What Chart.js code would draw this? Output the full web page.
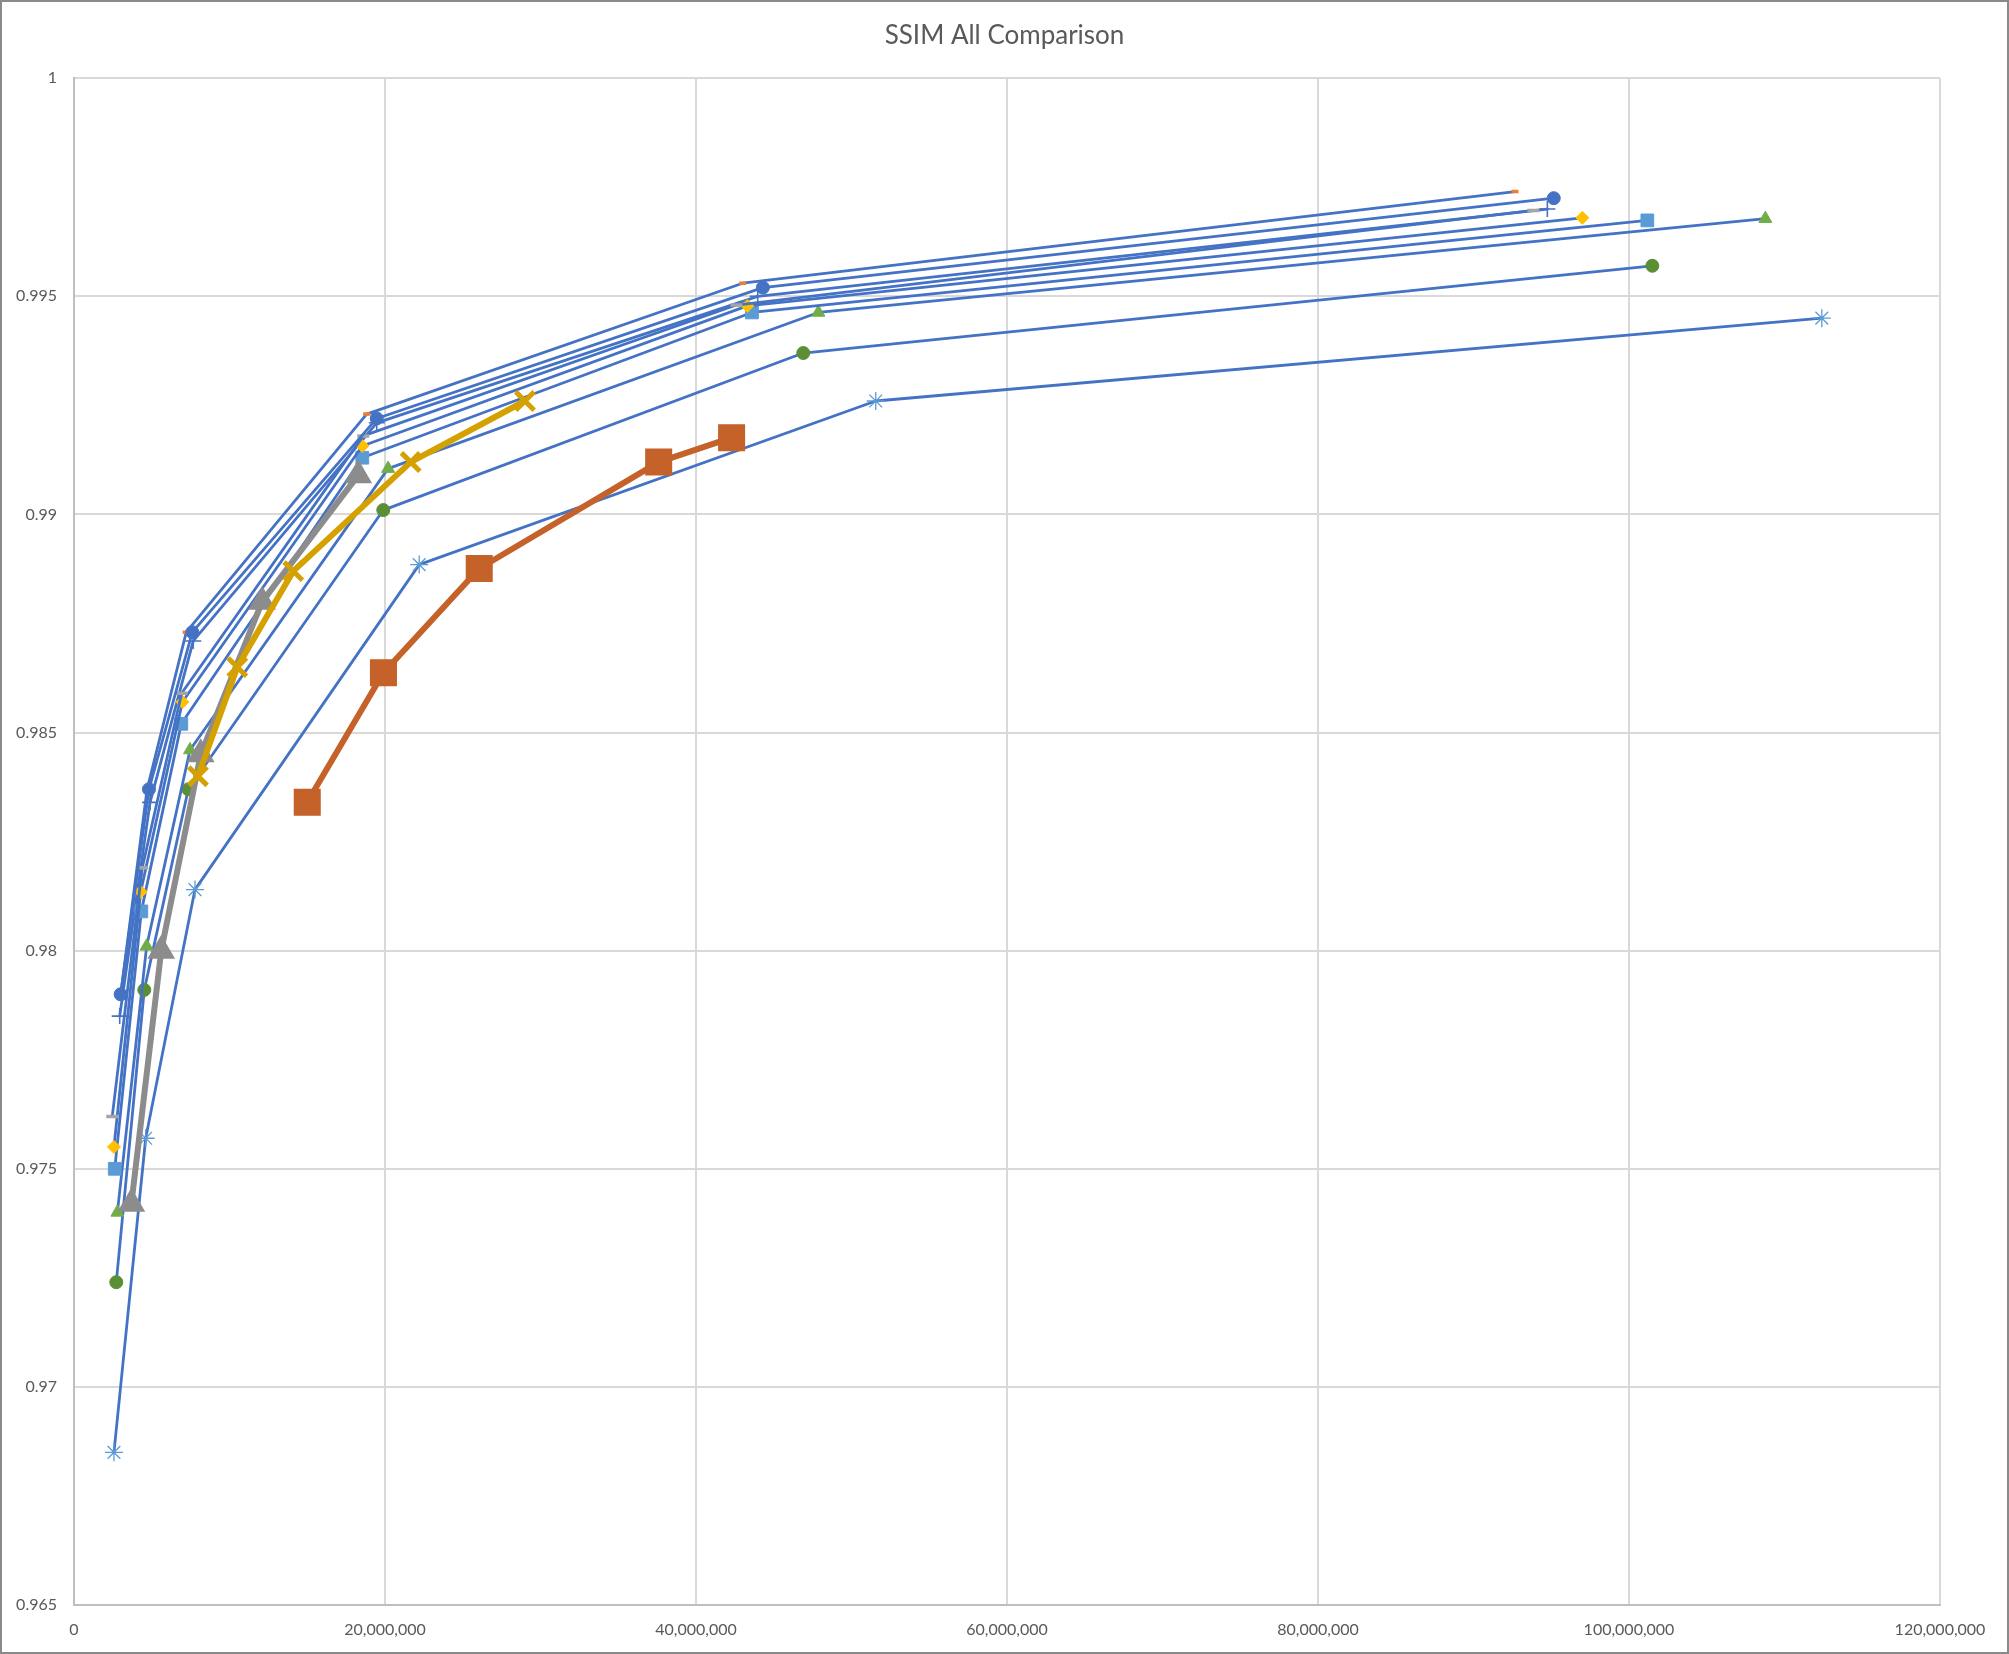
<!DOCTYPE html>
<html>
<head>
<meta charset="utf-8">
<script src="https://cdn.jsdelivr.net/npm/chart.js@4.4.1/dist/chart.umd.min.js"></script>
<style>
  html, body { margin: 0; padding: 0; background: #ffffff; }
  #wrap { position: relative; width: 2009px; height: 1654px; }
  #frame { position: absolute; left: 0; top: 0; width: 2009px; height: 1654px;
           box-sizing: border-box; border: 2px solid #8a8a8a; pointer-events: none; }
</style>
</head>
<body>
<div id="wrap">
  <canvas id="ssimChart" width="2009" height="1654"></canvas>
  <div id="frame"></div>
</div>
<script>
// Bitrate (x) and SSIM (y) per series
const seriesNames = [
  "Series 1", "Series 2", "Series 3", "Series 4", "Series 5", "Series 6",
  "Series 7", "Series 8", "Series 9", "Series 10", "Series 11", "Series 12"
];

const s1X = [3000000, 4820000, 7610000, 19470000, 44300000, 95160000];
const s1Y = [0.9790, 0.9837, 0.9873, 0.9922, 0.9952, 0.99725];

const s2X = [3040000, 4700000, 7220000, 18820000, 43000000, 92670000];
const s2Y = [0.9791, 0.9837, 0.9873, 0.9923, 0.9953, 0.9974];

const s3X = [2460000, 4390000, 6920000, 18600000, 42600000, 93850000];
const s3Y = [0.9762, 0.9819, 0.9859, 0.9918, 0.9948, 0.99697];

const s4X = [2570000, 4290000, 6970000, 18540000, 43300000, 97000000];
const s4Y = [0.9755, 0.98135, 0.9857, 0.99157, 0.99478, 0.9968];

const s5X = [2620000, 4330000, 6900000, 18540000, 43600000, 101180000];
const s5Y = [0.9750, 0.9809, 0.9852, 0.9913, 0.99463, 0.99674];

const s6X = [2790000, 4670000, 7460000, 20200000, 47870000, 108770000];
const s6Y = [0.9740, 0.9801, 0.9846, 0.99105, 0.99463, 0.99678];

const s7X = [2940000, 4890000, 7670000, 19470000, 43970000, 94750000];
const s7Y = [0.9785, 0.9834, 0.9871, 0.9921, 0.9950, 0.9970];

const s8X = [2720000, 4520000, 7350000, 19890000, 46900000, 101500000];
const s8Y = [0.9724, 0.9791, 0.9837, 0.9901, 0.9937, 0.9957];

const s9X = [2570000, 4610000, 7780000, 22200000, 51560000, 112400000];
const s9Y = [0.9685, 0.9757, 0.9814, 0.98885, 0.9926, 0.9945];

const s10X = [15000000, 19900000, 26060000, 37600000, 42290000];
const s10Y = [0.9834, 0.98637, 0.98876, 0.9912, 0.99176];

const s11X = [7970000, 10500000, 14100000, 21650000, 29000000];
const s11Y = [0.9840, 0.9865, 0.9887, 0.9912, 0.9926];

const s12X = [3690000, 5610000, 8150000, 12100000, 18280000];
const s12Y = [0.9742, 0.9800, 0.9845, 0.9880, 0.9909];

const xTicks = [0, 20000000, 40000000, 60000000, 80000000, 100000000, 120000000];
const yTicks = [0.965, 0.97, 0.975, 0.98, 0.985, 0.99, 0.995, 1];

const LINE_BLUE = "#4472C4";

function toPoints(xs, ys) {
  return xs.map((x, i) => ({ x: x, y: ys[i] }));
}

// thin Excel-style series: blue line, coloured marker
function thinSeries(name, xs, ys, style, color, radius, markerWidth, order) {
  return {
    label: name,
    data: toPoints(xs, ys),
    showLine: true,
    borderColor: LINE_BLUE,
    borderWidth: 2.8,
    borderCapStyle: "round",
    borderJoinStyle: "round",
    pointStyle: style,
    pointRadius: radius,
    pointBackgroundColor: color,
    pointBorderColor: color,
    pointBorderWidth: markerWidth,
    order: order
  };
}

// heavy series: line and marker share one colour
function thickSeries(name, xs, ys, style, color, radius, markerWidth, order) {
  return {
    label: name,
    data: toPoints(xs, ys),
    showLine: true,
    borderColor: color,
    borderWidth: 6,
    borderCapStyle: "round",
    borderJoinStyle: "round",
    pointStyle: style,
    pointRadius: radius,
    pointBackgroundColor: color,
    pointBorderColor: color,
    pointBorderWidth: markerWidth,
    order: order
  };
}

const datasets = [
  thinSeries(seriesNames[8], s9X, s9Y, "star", "#5B9BD5", 9, 1.3, 12),
  thinSeries(seriesNames[7], s8X, s8Y, "circle", "#5A8F36", 6.5, 1, 11),
  thinSeries(seriesNames[6], s7X, s7Y, "cross", LINE_BLUE, 8, 1.6, 10),
  thinSeries(seriesNames[5], s6X, s6Y, "triangle", "#70AD47", 7.5, 1, 9),
  thinSeries(seriesNames[4], s5X, s5Y, "rect", "#5B9BD5", 9, 1, 8),
  thinSeries(seriesNames[3], s4X, s4Y, "rectRot", "#FFC000", 6.5, 1, 7),
  thinSeries(seriesNames[2], s3X, s3Y, "line", "#A5A5A5", 6, 3.5, 6),
  thinSeries(seriesNames[1], s2X, s2Y, "line", "#ED7D31", 3.5, 3.5, 5),
  thinSeries(seriesNames[0], s1X, s1Y, "circle", LINE_BLUE, 6.5, 1, 4),
  thickSeries(seriesNames[11], s12X, s12Y, "triangle", "#8C8C8C", 13, 3, 3),
  thickSeries(seriesNames[10], s11X, s11Y, "crossRot", "#D5A100", 13, 5, 2),
  thickSeries(seriesNames[9], s10X, s10Y, "rect", "#C4622A", 17, 3, 1)
];

const ctx = document.getElementById("ssimChart").getContext("2d");

new Chart(ctx, {
  type: "scatter",
  data: { datasets: datasets },
  options: {
    responsive: false,
    animation: false,
    devicePixelRatio: 1,
    layout: { padding: 0 },
    plugins: {
      legend: { display: false },
      tooltip: { enabled: false },
      title: {
        display: true,
        text: "SSIM All Comparison",
        color: "#595959",
        font: { family: "Lato", size: 26, weight: "normal" },
        padding: { top: 20, bottom: 27 }
      }
    },
    scales: {
      x: {
        type: "linear",
        min: 0,
        max: 120000000,
        afterBuildTicks: (scale) => { scale.ticks = xTicks.map(v => ({ value: v })); },
        afterFit: (scale) => { scale.height = 49; },
        grid: { color: "#D9D9D9", lineWidth: 2, drawTicks: false },
        border: { color: "#BFBFBF", width: 2 },
        ticks: {
          color: "#595959",
          padding: 15,
          maxRotation: 0,
          font: { family: "Lato", size: 16 },
          callback: (v) => Number(v).toLocaleString("en-US")
        }
      },
      y: {
        type: "linear",
        min: 0.965,
        max: 1,
        afterBuildTicks: (scale) => { scale.ticks = yTicks.map(v => ({ value: v })); },
        afterFit: (scale) => { scale.width = 74; },
        grid: { color: "#D9D9D9", lineWidth: 2, drawTicks: false },
        border: { color: "#BFBFBF", width: 2 },
        ticks: {
          color: "#595959",
          padding: 17,
          font: { family: "Lato", size: 16 },
          callback: (v) => String(Number(Number(v).toFixed(3)))
        }
      },
      // empty spacer on the right: plot ends where the reference does and the title stays centred
      yRight: {
        type: "linear",
        position: "right",
        min: 0,
        max: 1,
        afterFit: (scale) => { scale.width = 69; },
        grid: { display: false, drawTicks: false },
        border: { display: false },
        ticks: { display: false }
      }
    }
  }
});
</script>
</body>
</html>
